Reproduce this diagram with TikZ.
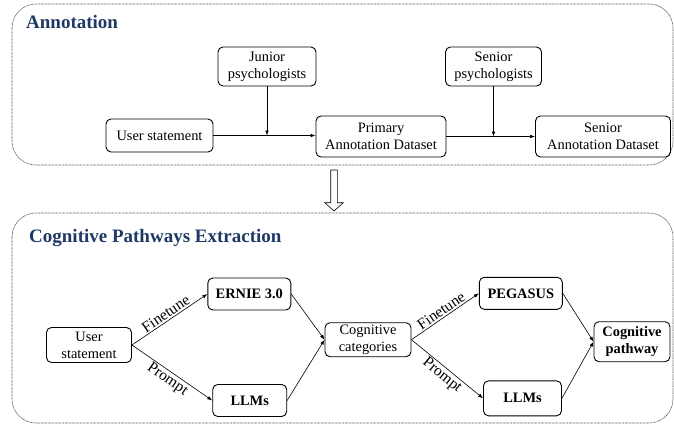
\documentclass[tikz,border=0pt]{standalone}
\usepackage{fontspec}
\setmainfont{Liberation Serif}
\usetikzlibrary{arrows.meta}
\definecolor{titleblue}{RGB}{31,56,100}
\begin{document}
\begin{tikzpicture}[x=1pt,y=-1pt,
  box/.style={draw, line width=0.9pt, rounded corners=5pt, align=center, inner sep=1pt,
    font=\fontsize{14.4}{17}\selectfont},
  bbox/.style={box, font=\fontsize{14.4}{17}\selectfont\bfseries},
  container/.style={draw=black!70, line width=0.6pt, dash pattern=on 0.8pt off 0.6pt, rounded corners=24pt},
  title/.style={anchor=base west, text=titleblue, font=\fontsize{19}{22}\selectfont\bfseries, inner sep=0pt},
  arr/.style={line width=0.6pt, -{Latex[length=5pt,width=3.6pt]}},
  lbl/.style={font=\fontsize{15.5}{17}\selectfont, sloped, inner sep=1.5pt}
]
\useasboundingbox (0,0) rectangle (674,426);
% containers
\draw[container] (12,4) rectangle (673,165);
\draw[container] (12,213) rectangle (673,423);
\node[title] (t1) at (26,28) {Annotation};
\node[title] (t2) at (29,242) {Cognitive Pathways Extraction};
% hollow arrow
\draw[line width=0.6pt] (330.7,170) -- (337.3,170) -- (337.3,202.7) -- (343.3,202.7) -- (334,211) -- (324.7,202.7) -- (330.7,202.7) -- cycle;
% top row
\node[box, minimum width=107pt, minimum height=33pt] (us) at (159.5,135.5) {User statement};
\node[box, minimum width=98pt, minimum height=39pt] (jp) at (267,66.5) {Junior\\psychologists};
\node[box, minimum width=130pt, minimum height=41pt] (pad) at (381,136.5) {Primary\\Annotation Dataset};
\node[box, minimum width=96pt, minimum height=39pt] (sp) at (493.5,66.5) {Senior\\psychologists};
\node[box, minimum width=135pt, minimum height=41pt] (sad) at (603,136.5) {Senior\\Annotation Dataset};
\coordinate (j1) at (267,135.5);
\coordinate (j2) at (493.5,136.5);
\draw[arr] (us.east) -- (pad.west |- us.east);
\draw[arr] (jp.south) -- (j1);
\draw[arr] (pad.east) -- (sad.west);
\draw[arr] (sp.south) -- (j2);
% bottom row
\node[box, minimum width=85pt, minimum height=35pt] (us2) at (89,345) {User\\statement};
\node[bbox, minimum width=83pt, minimum height=32pt] (ern) at (249.3,294) {ERNIE 3.0};
\node[bbox, minimum width=74pt, minimum height=32pt] (llm1) at (249.7,400.5) {LLMs};
\node[box, minimum width=86pt, minimum height=34pt] (cc) at (368,339.7) {Cognitive\\categories};
\node[bbox, minimum width=83pt, minimum height=32pt] (peg) at (520.8,293.3) {PEGASUS};
\node[bbox, minimum width=78pt, minimum height=35pt] (llm2) at (522.5,398.3) {LLMs};
\node[bbox, minimum width=76pt, minimum height=40pt] (cp) at (632,341.7) {Cognitive\\pathway};
\draw[arr] (us2.east) -- node[lbl, above] {Finetune} (ern.west);
\draw[arr] (us2.east) -- node[lbl, below] {Prompt} (llm1.west);
\draw[arr] (ern.east) -- (cc.west);
\draw[arr] (llm1.east) -- (cc.west);
\draw[arr] (cc.east) -- node[lbl, above] {Finetune} (peg.west);
\draw[arr] (cc.east) -- node[lbl, below] {Prompt} (llm2.west);
\draw[arr] (peg.east) -- (cp.west);
\draw[arr] (llm2.east) -- (cp.west);
\end{tikzpicture}
\end{document}
